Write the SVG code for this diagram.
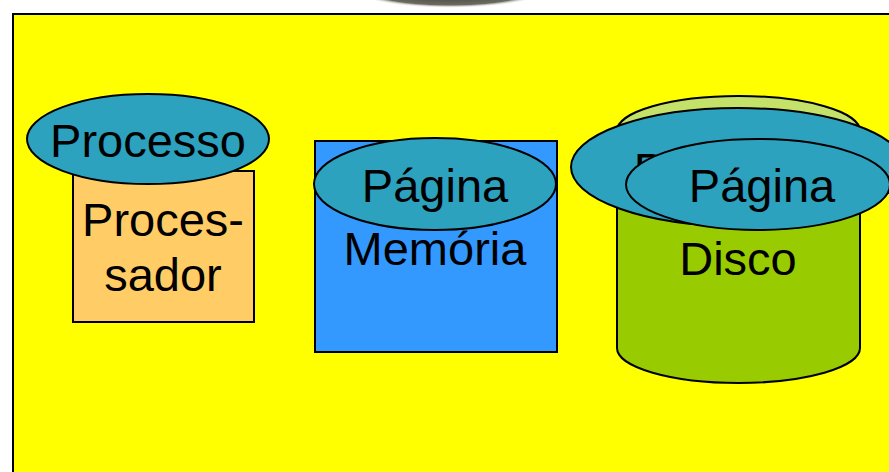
<svg xmlns="http://www.w3.org/2000/svg" width="889" height="472" viewBox="0 0 889 472">
<style>
text{font-family:"Liberation Sans",Arial,sans-serif;font-size:47px;fill:#000;text-anchor:middle}
.ell{fill:#2CA2BE;stroke:#000;stroke-width:2}
</style>
<defs>
<radialGradient id="sh" cx="0.5" cy="0.5" r="0.5">
<stop offset="0" stop-color="#2a2a2a"/>
<stop offset="0.85" stop-color="#6a6a60"/>
<stop offset="1" stop-color="#ffffff" stop-opacity="0"/>
</radialGradient>
</defs>
<rect width="889" height="472" fill="#fff"/>
<ellipse cx="450" cy="-12" rx="100" ry="20" fill="url(#sh)"/>
<rect x="13" y="14" width="890" height="470" fill="#FFFF00" stroke="#000" stroke-width="2"/>
<g id="processador">
<rect x="73" y="171" width="181" height="151" fill="#FFCC66" stroke="#000" stroke-width="2"/>
<text x="163" y="236">Proces-</text>
<text x="163" y="291">sador</text>
</g>
<g id="processo">
<ellipse class="ell" cx="148" cy="139" rx="121" ry="45"/>
<text x="148" y="157">Processo</text>
</g>
<g id="memoria">
<rect x="315" y="141" width="242" height="211" fill="#3399FF" stroke="#000" stroke-width="2"/>
<text x="435" y="265">Memória</text>
</g>
<g id="pagina-memoria">
<ellipse class="ell" cx="435" cy="184" rx="121" ry="46"/>
<text x="435" y="202">Página</text>
</g>
<g id="disco">
<path d="M617,131 L617,348 A121.5,35 0 0 0 860,348 L860,131 Z" fill="#99CC00" stroke="#000" stroke-width="2"/>
<ellipse cx="738.5" cy="131" rx="121.5" ry="35" fill="#C4E26A" stroke="#000" stroke-width="2"/>
<text x="738" y="275">Disco</text>
</g>
<g id="pagina-disco-1">
<ellipse class="ell" cx="738" cy="167" rx="167" ry="59"/>
<text x="707" y="186">Página</text>
</g>
<g id="pagina-disco-2">
<ellipse class="ell" cx="758" cy="184.5" rx="132" ry="45.5"/>
<text x="762" y="202">Página</text>
</g>
<g id="connectors"></g>
</svg>
